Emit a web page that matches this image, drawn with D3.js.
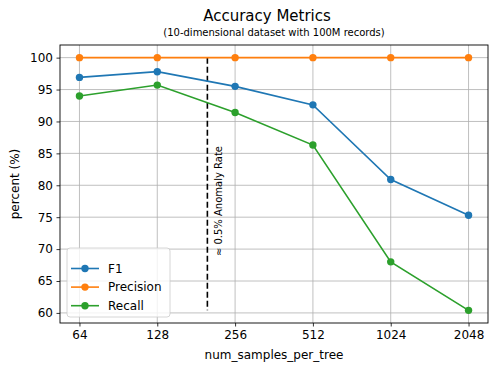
<!DOCTYPE html>
<html>
<head>
<meta charset="utf-8">
<script src="https://cdn.jsdelivr.net/npm/d3@7"></script>
<style>
  body { margin: 0; background: #fff; }
  svg text { font-family: "DejaVu Sans", sans-serif; fill: #000; }
</style>
</head>
<body>
<div id="chart"></div>
<script>
// data
const samples = [64, 128, 256, 512, 1024, 2048];
const f1 = [96.9, 97.8, 95.5, 92.6, 80.9, 75.3];
const precision = [100, 100, 100, 100, 100, 100];
const recall = [94.0, 95.7, 91.4, 86.3, 68.0, 60.4];
const yTicks = [60, 65, 70, 75, 80, 85, 90, 95, 100];
const anomalyX = 200;

const series = [
  { name: "F1", values: f1, color: "#1f77b4" },
  { name: "Precision", values: precision, color: "#ff7f0e" },
  { name: "Recall", values: recall, color: "#2ca02c" }
];

const W = 500, H = 372;
const margin = { top: 45, right: 12, bottom: 49, left: 60 };
const width = W - margin.left - margin.right,
  height = H - margin.top - margin.bottom;

const svg = d3.select("#chart").append("svg")
  .attr("width", W)
  .attr("height", H);

// matplotlib-like 5% padding
const lx = d3.extent(samples).map(Math.log2);
const padX = (lx[1] - lx[0]) * 0.05;
const x = d3.scaleLog().base(2)
  .domain([Math.pow(2, lx[0] - padX), Math.pow(2, lx[1] + padX)])
  .range([0, width]);

const allY = d3.merge(series.map(s => s.values));
const ey = d3.extent(allY);
const padY = (ey[1] - ey[0]) * 0.05;
const y = d3.scaleLinear()
  .domain([ey[0] - padY, ey[1] + padY])
  .range([height, 0]);

const g = svg.append("g")
  .attr("transform", "translate(" + margin.left + "," + margin.top + ")");

// grid
g.append("g")
  .selectAll("line.gx")
  .data(samples)
  .enter().append("line")
  .attr("x1", d => x(d)).attr("x2", d => x(d))
  .attr("y1", 0).attr("y2", height)
  .attr("stroke", "#b0b0b0").attr("stroke-width", 0.8);
g.append("g")
  .selectAll("line.gy")
  .data(yTicks)
  .enter().append("line")
  .attr("x1", 0).attr("x2", width)
  .attr("y1", d => y(d)).attr("y2", d => y(d))
  .attr("stroke", "#b0b0b0").attr("stroke-width", 0.8);

// axes
const xAxis = g.append("g")
  .attr("transform", "translate(0," + height + ")")
  .call(d3.axisBottom(x).tickValues(samples).tickFormat(d3.format("d")).tickSize(3.5).tickPadding(3.5));
const yAxis = g.append("g")
  .call(d3.axisLeft(y).tickValues(yTicks).tickSize(3.5).tickPadding(3.5));
[xAxis, yAxis].forEach(a => {
  a.select(".domain").remove();
  a.selectAll("text").style("font-family", "DejaVu Sans").style("font-size", "12px").attr("fill", "#000");
  a.selectAll("line").attr("stroke", "#000").attr("stroke-width", 0.8);
});

// dashed anomaly line
g.append("line")
  .attr("x1", x(anomalyX)).attr("x2", x(anomalyX))
  .attr("y1", y(100)).attr("y2", y(d3.min(recall)))
  .attr("stroke", "#000")
  .attr("stroke-width", 1.6)
  .attr("stroke-dasharray", "6,3");

g.append("text")
  .attr("transform", "translate(" + (x(anomalyX) + 15) + "," + y(68.9) + ") rotate(-90)")
  .style("font-size", "10px")
  .text("≈ 0.5% Anomaly Rate");

// lines and markers
const line = d3.line()
  .x((d, i) => x(samples[i]))
  .y(d => y(d));

series.forEach(s => {
  g.append("path")
    .datum(s.values)
    .attr("fill", "none")
    .attr("stroke", s.color)
    .attr("stroke-width", 1.6)
    .attr("d", line);
  g.selectAll(null)
    .data(s.values)
    .enter().append("circle")
    .attr("cx", (d, i) => x(samples[i]))
    .attr("cy", d => y(d))
    .attr("r", 3.7)
    .attr("fill", s.color);
});

// frame
g.append("rect")
  .attr("width", width).attr("height", height)
  .attr("fill", "none")
  .attr("stroke", "#000")
  .attr("stroke-width", 0.9);

// legend
const leg = g.append("g").attr("transform", "translate(7," + (height - 75) + ")");
leg.append("rect")
  .attr("width", 103).attr("height", 69)
  .attr("rx", 3)
  .attr("fill", "#fff").attr("fill-opacity", 0.8)
  .attr("stroke", "#cccccc").attr("stroke-width", 0.8);
series.forEach((s, i) => {
  const row = leg.append("g").attr("transform", "translate(0," + (20.5 + i * 18.6) + ")");
  row.append("line")
    .attr("x1", 4).attr("x2", 32)
    .attr("stroke", s.color).attr("stroke-width", 1.6);
  row.append("circle").attr("cx", 18).attr("r", 3.7).attr("fill", s.color);
  row.append("text")
    .attr("x", 41).attr("dy", "0.35em")
    .style("font-size", "12px")
    .text(s.name);
});

// titles
svg.append("text")
  .attr("x", 267).attr("y", 21)
  .attr("text-anchor", "middle")
  .style("font-size", "15px")
  .text("Accuracy Metrics");
svg.append("text")
  .attr("x", margin.left + width / 2).attr("y", 36)
  .attr("text-anchor", "middle")
  .style("font-size", "10px")
  .text("(10-dimensional dataset with 100M records)");
svg.append("text")
  .attr("x", margin.left + width / 2).attr("y", 359)
  .attr("text-anchor", "middle")
  .style("font-size", "12px")
  .text("num_samples_per_tree");
svg.append("text")
  .attr("transform", "translate(19," + (margin.top + height / 2) + ") rotate(-90)")
  .attr("text-anchor", "middle")
  .style("font-size", "12px")
  .text("percent (%)");
</script>
</body>
</html>
